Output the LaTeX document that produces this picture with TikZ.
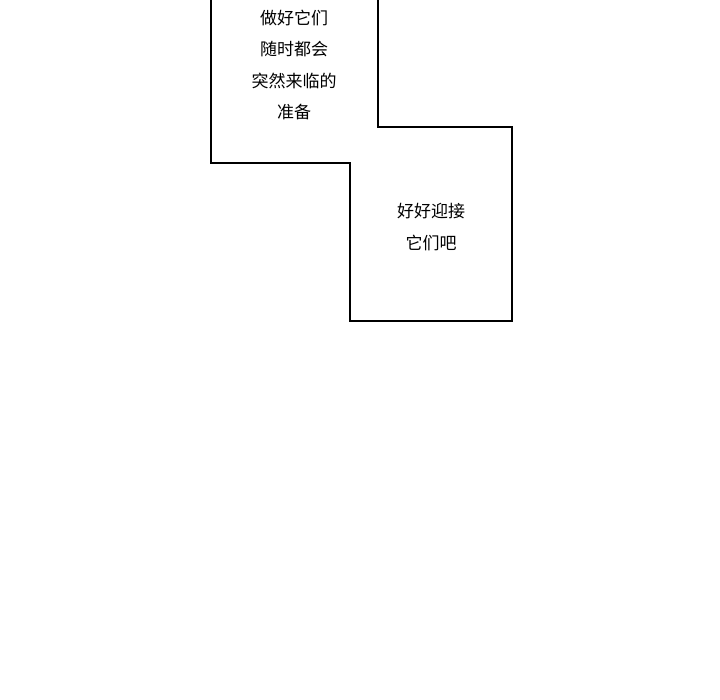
\documentclass[tikz,border=0pt]{standalone}
\usepackage{fontspec}
\newfontfamily\cjk{Noto Sans CJK SC}
\begin{document}
\begin{tikzpicture}[x=1pt,y=1pt,txt/.style={font=\cjk\fontsize{17}{31.5}\selectfont,align=center,inner sep=0}]
\useasboundingbox (0,0) rectangle (720,700);
\draw[line width=2, fill=white] (211,705) -- (211,537) -- (350,537) -- (350,379) -- (512,379) -- (512,573) -- (378,573) -- (378,705);
\node[txt] (t1) at (294,635) {做好它们\\随时都会\\突然来临的\\准备};
\node[txt] (t2) at (431,473) {好好迎接\\它们吧};
\end{tikzpicture}
\end{document}
